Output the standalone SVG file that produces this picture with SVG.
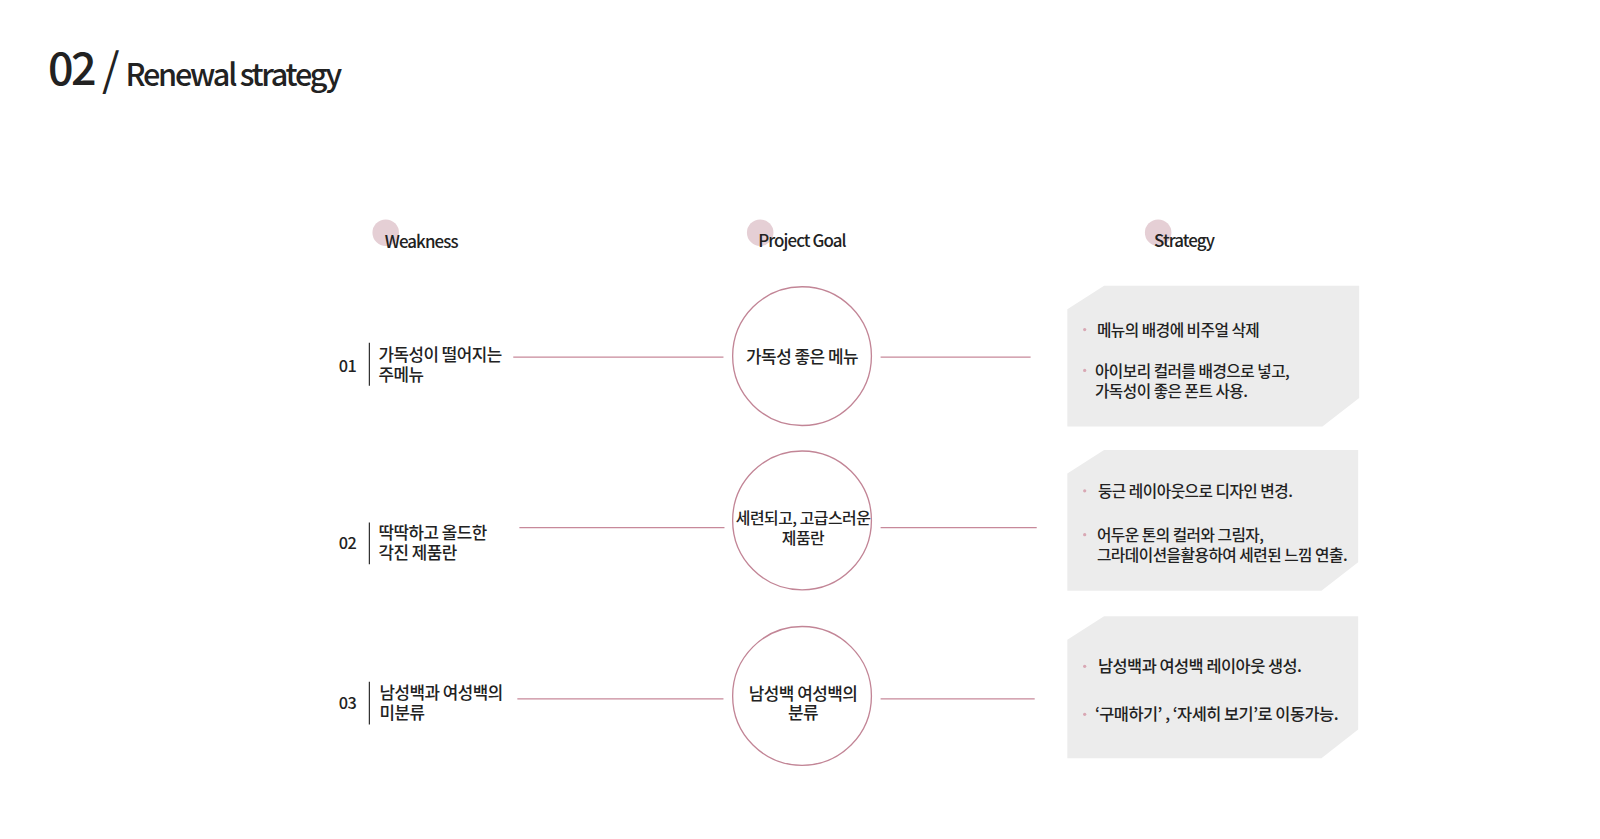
<svg xmlns="http://www.w3.org/2000/svg" width="1600" height="839" viewBox="0 0 1600 839">
<style>
text{font-family:"Noto Sans CJK KR","Noto Sans",sans-serif;fill:#222;font-weight:500;letter-spacing:-0.5px}
.h{font-size:16.6px;letter-spacing:-0.9px}
.num{font-size:16px}
.lbl{font-size:16.5px}
.ct{font-size:16.6px;text-anchor:middle}
.bt{font-size:15.4px}
.bt3{font-size:16.1px}
.dot{fill:#e5cfd5}
.bar{stroke:#333;stroke-width:1.2}
.con{stroke:#c7899a;stroke-width:1.2;fill:none}
.circ{fill:#fff;stroke:#c28596;stroke-width:1.3}
.box{fill:#ececec}
.bd{fill:#d9a8b4}
</style>
<rect width="1600" height="839" fill="#fff"/>
<g transform="scale(1.0204)">
<g id="title">
<text x="47" y="83" style="font-size:44px;letter-spacing:-2.5px">02</text>
<text x="100" y="84" style="font-size:44px;font-weight:400">/</text>
<text x="123" y="84" style="font-size:30px;letter-spacing:-2.2px">Renewal strategy</text>
</g>
<g id="headers">
<circle class="dot" cx="378" cy="228" r="13"/>
<text class="h" x="377" y="243">Weakness</text>
<circle class="dot" cx="745" cy="228" r="13"/>
<text class="h" x="743" y="242">Project Goal</text>
<circle class="dot" cx="1135" cy="228" r="13"/>
<text class="h" x="1131" y="242">Strategy</text>
</g>
<g id="connectors">
<line class="con" x1="503" y1="350" x2="709" y2="350"/>
<line class="con" x1="863" y1="350" x2="1010" y2="350"/>
<line class="con" x1="509" y1="517" x2="710" y2="517"/>
<line class="con" x1="863" y1="517" x2="1016" y2="517"/>
<line class="con" x1="507" y1="685" x2="709" y2="685"/>
<line class="con" x1="863" y1="685" x2="1014" y2="685"/>
</g>
<g id="weakness1">
<text class="num" x="332" y="365">01</text>
<line class="bar" x1="362" y1="336" x2="362" y2="378"/>
<text class="lbl" x="371" y="354">가독성이 떨어지는</text>
<text class="lbl" x="371" y="373">주메뉴</text>
</g>
<g id="weakness2">
<text class="num" x="332" y="538">02</text>
<line class="bar" x1="362" y1="512" x2="362" y2="553"/>
<text class="lbl" x="371" y="528">딱딱하고 올드한</text>
<text class="lbl" x="371" y="548">각진 제품란</text>
</g>
<g id="weakness3">
<text class="num" x="332" y="695">03</text>
<line class="bar" x1="362" y1="668" x2="362" y2="710"/>
<text class="lbl" x="372" y="685">남성백과 여성백의</text>
<text class="lbl" x="372" y="705">미분류</text>
</g>
<g id="goal1">
<circle class="circ" cx="786" cy="349" r="68"/>
<text class="ct" x="786" y="356">가독성 좋은 메뉴</text>
</g>
<g id="goal2">
<circle class="circ" cx="786" cy="510" r="68"/>
<text class="ct" x="787" y="514" style="font-size:15.6px">세련되고, 고급스러운</text>
<text class="ct" x="787" y="533" style="font-size:15.6px">제품란</text>
</g>
<g id="goal3">
<circle class="circ" cx="786" cy="682" r="68"/>
<text class="ct" x="787" y="686">남성백 여성백의</text>
<text class="ct" x="787" y="705">분류</text>
</g>
<g id="strategy1">
<polygon class="box" points="1082,280 1332,280 1332,390 1296,418 1046,418 1046,303"/>
<circle class="bd" cx="1063" cy="323" r="1.6"/>
<text class="bt" x="1075" y="329">메뉴의 배경에 비주얼 삭제</text>
<circle class="bd" cx="1063" cy="363" r="1.6"/>
<text class="bt" x="1073" y="369">아이보리 컬러를 배경으로 넣고,</text>
<text class="bt" x="1073" y="389">가독성이 좋은 폰트 사용.</text>
</g>
<g id="strategy2">
<polygon class="box" points="1082,441 1331,441 1331,551 1295,579 1046,579 1046,464"/>
<circle class="bd" cx="1063" cy="481" r="1.6"/>
<text class="bt" x="1076" y="487">둥근 레이아웃으로 디자인 변경.</text>
<circle class="bd" cx="1063" cy="524" r="1.6"/>
<text class="bt" x="1075" y="530">어두운 톤의 컬러와 그림자,</text>
<text class="bt" x="1075" y="550">그라데이션을활용하여 세련된 느낌 연출.</text>
</g>
<g id="strategy3">
<polygon class="box" points="1082,604 1331,604 1331,715 1295,743 1046,743 1046,627"/>
<circle class="bd" cx="1063" cy="653" r="1.6"/>
<text class="bt3" x="1076" y="659">남성백과 여성백 레이아웃 생성.</text>
<circle class="bd" cx="1063" cy="700" r="1.6"/>
<text class="bt3" x="1073" y="706">‘구매하기’ , ‘자세히 보기’로 이동가능.</text>
</g>
</g>
</svg>
